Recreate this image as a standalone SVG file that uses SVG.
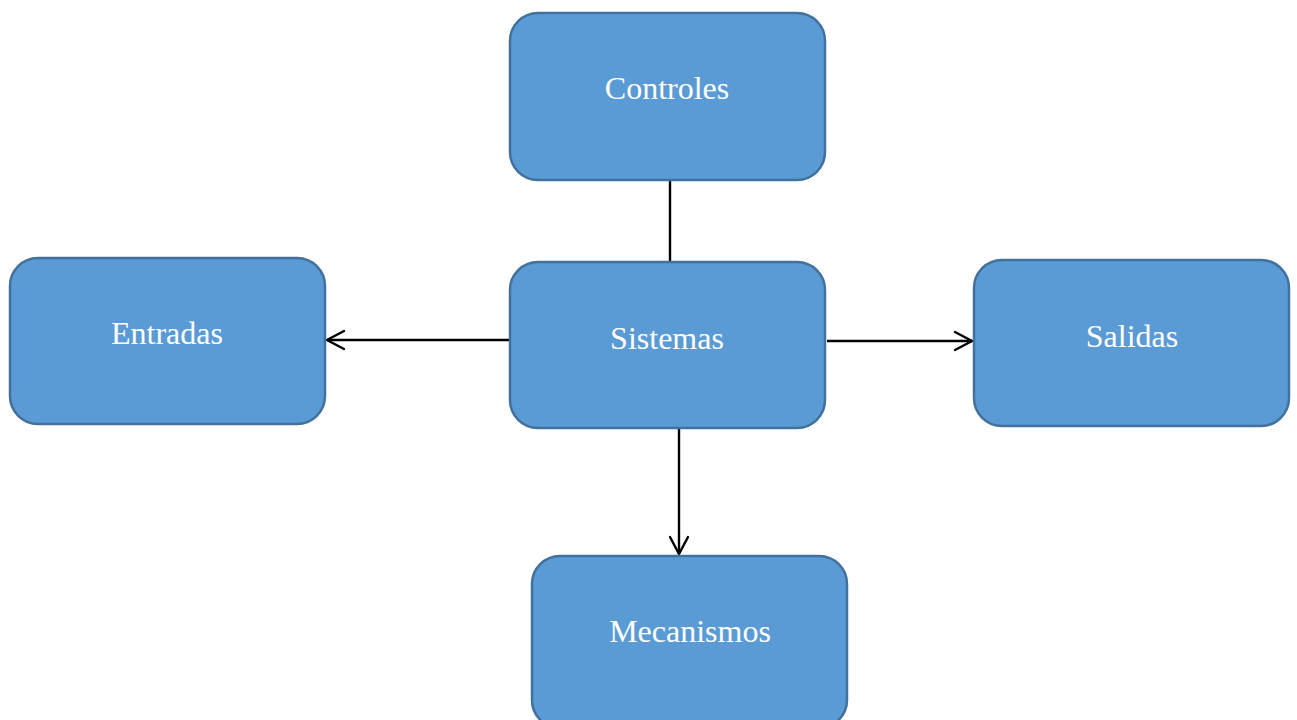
<svg xmlns="http://www.w3.org/2000/svg" width="1297" height="720" viewBox="0 0 1297 720">
  <style>
    .box { fill: #5B9BD5; stroke: #41719C; stroke-width: 2.5; }
    .label { fill: #FFFFFF; font-family: "Liberation Serif", "Times New Roman", serif; font-size: 32px; text-anchor: middle; }
    .conn { stroke: #000000; stroke-width: 2.4; fill: none; }
    .head { stroke: #000000; stroke-width: 2.4; fill: none; stroke-linecap: round; stroke-linejoin: miter; }
  </style>
  <rect width="1297" height="720" fill="#FFFFFF"/>

  <g id="connectors">
    <!-- Controles to Sistemas -->
    <line class="conn" x1="670" y1="180" x2="670" y2="262"/>
    <!-- Sistemas to Entradas -->
    <line class="conn" x1="510" y1="340" x2="327" y2="340"/>
    <polyline class="head" points="344,331 327,340 344,349"/>
    <!-- Sistemas to Salidas -->
    <line class="conn" x1="827" y1="341" x2="972" y2="341"/>
    <polyline class="head" points="955,332 972,341 955,350"/>
    <!-- Sistemas to Mecanismos -->
    <line class="conn" x1="679" y1="428" x2="679" y2="554"/>
    <polyline class="head" points="670,537 679,554 688,537"/>
  </g>

  <g id="controles">
    <rect class="box" x="510" y="13" width="315" height="167" rx="28"/>
    <text class="label" x="667" y="99">Controles</text>
  </g>

  <g id="entradas">
    <rect class="box" x="10" y="258" width="315" height="166" rx="28"/>
    <text class="label" x="167" y="344">Entradas</text>
  </g>

  <g id="sistemas">
    <rect class="box" x="510" y="262" width="315" height="166" rx="28"/>
    <text class="label" x="667" y="349">Sistemas</text>
  </g>

  <g id="salidas">
    <rect class="box" x="974" y="260" width="315" height="166" rx="28"/>
    <text class="label" x="1132" y="347">Salidas</text>
  </g>

  <g id="mecanismos">
    <rect class="box" x="532" y="556" width="315" height="172" rx="28"/>
    <text class="label" x="690" y="642">Mecanismos</text>
  </g>
</svg>
